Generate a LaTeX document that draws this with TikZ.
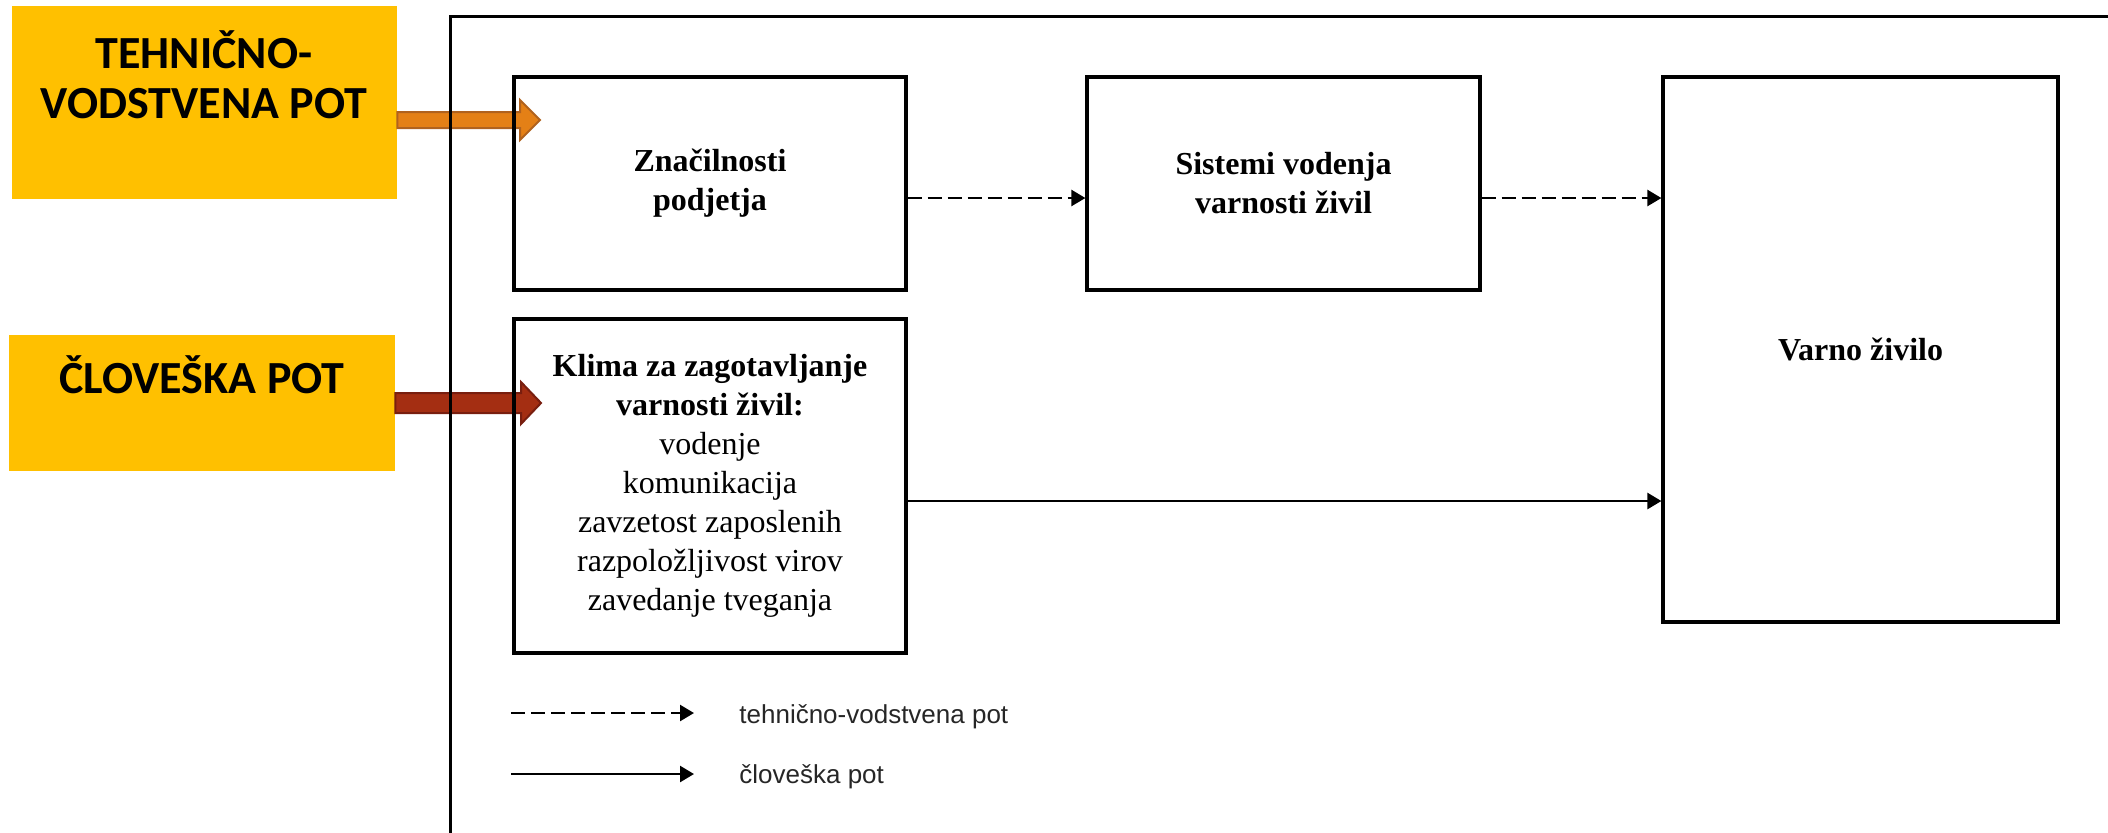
\documentclass[tikz,border=0pt]{standalone}
\usepackage{fontspec}
\setmainfont{Liberation Serif}
\newfontfamily\calfont{Carlito}
\newfontfamily\arialfont{Liberation Sans}
\usetikzlibrary{arrows.meta,calc}
\definecolor{yfill}{RGB}{255,192,0}
\definecolor{ofill}{RGB}{228,128,22}
\definecolor{oline}{RGB}{176,98,30}
\definecolor{rfill}{RGB}{164,46,18}
\definecolor{rline}{RGB}{120,30,15}
\begin{document}
\begin{tikzpicture}[x=0.5pt,y=-0.5pt,
  ybox/.style={draw=none,fill=yfill,rectangle,inner sep=0pt},
  ylabel/.style={font=\calfont\bfseries\fontsize{23}{25}\selectfont,align=center,inner sep=0pt,text=black},
  mainbox/.style={draw=black,line width=1.6pt,rectangle,inner sep=0pt,align=center,
    font=\bfseries\fontsize{16}{19.5}\selectfont},
  techconn/.style={line width=1.2pt,dash pattern=on 7pt off 3pt,-{Triangle[length=7pt,width=8pt]}},
  humconn/.style={line width=1.2pt,-{Triangle[length=7pt,width=8pt]}},
  legtext/.style={font=\arialfont\fontsize{13}{15}\selectfont,text=black!85,anchor=west,inner sep=0pt},
  framel/.style={line width=1.5pt,draw=black}
]
\useasboundingbox (0,0) rectangle (2108,832);

% yellow boxes
\node[ybox,minimum width=192.5pt,minimum height=96.5pt] (tvbox) at (204.5,102.5) {};
\node[ylabel] (tvlabel) at (204,75) {TEHNIČNO-\\VODSTVENA POT};
\node[ybox,minimum width=193pt,minimum height=68pt] (cpbox) at (202,403) {};
\node[ylabel] (cplabel) at (202,375) {ČLOVEŠKA POT};

% block arrows
\coordinate (a1s) at ([yshift=-8.75pt]tvbox.east);
\coordinate (a1e) at (540,120);
\path[draw=oline,fill=ofill,line width=1pt]
  ($(a1s)+(0,-8)$) -- ($(a1e)+(-20,-8)$) -- ($(a1e)+(-20,-20)$) -- (a1e)
  -- ($(a1e)+(-20,20)$) -- ($(a1e)+(-20,8)$) -- ($(a1s)+(0,8)$) -- cycle;
\coordinate (a2s) at (cpbox.east);
\coordinate (a2e) at (541,403);
\path[draw=rline,fill=rfill,line width=1pt]
  ($(a2s)+(0,-10)$) -- ($(a2e)+(-20,-10)$) -- ($(a2e)+(-20,-21)$) -- (a2e)
  -- ($(a2e)+(-20,21)$) -- ($(a2e)+(-20,10)$) -- ($(a2s)+(0,10)$) -- cycle;

% frame
\coordinate (fr1) at (2120,16);
\coordinate (fr2) at (450,16);
\coordinate (fr3) at (450,845);
\draw[framel] (fr1) -- (fr2) -- (fr3);

% main boxes
\node[mainbox,minimum width=196pt,minimum height=106.5pt] (zn) at (710,183.5) {Značilnosti\\podjetja};
\node[mainbox,minimum width=196.5pt,minimum height=106.5pt] (sis) at (1283.5,183.5) {Sistemi vodenja\\varnosti živil};
\node[mainbox,minimum width=196pt,minimum height=167pt,font=\fontsize{16}{19.5}\selectfont] (kl) at (710,486)
  {\textbf{Klima za zagotavljanje}\\\textbf{varnosti živil:}\\vodenje\\komunikacija\\zavzetost zaposlenih\\razpoložljivost virov\\zavedanje tveganja};
\node[mainbox,minimum width=197.5pt,minimum height=272.5pt] (var) at (1860.5,349.5) {Varno živilo};

% connectors
\draw[techconn] ([yshift=-7.25pt]zn.east) -- ([yshift=-7.25pt]sis.west);
\draw[techconn] ([yshift=-7.25pt]sis.east) -- ([yshift=-7.25pt]sis.east -| var.west);
\draw[humconn] ([yshift=-7.5pt]kl.east) -- ([yshift=-7.5pt]kl.east -| var.west);

% legend
\coordinate (l1a) at (511,713);
\coordinate (l1b) at (694,713);
\coordinate (l2a) at (511,774);
\coordinate (l2b) at (694,774);
\draw[techconn] (l1a) -- (l1b);
\draw[humconn] (l2a) -- (l2b);
\node[legtext] (lt1) at (739,717) {tehnično-vodstvena pot};
\node[legtext] (lt2) at (739,777) {človeška pot};
\end{tikzpicture}
\end{document}
